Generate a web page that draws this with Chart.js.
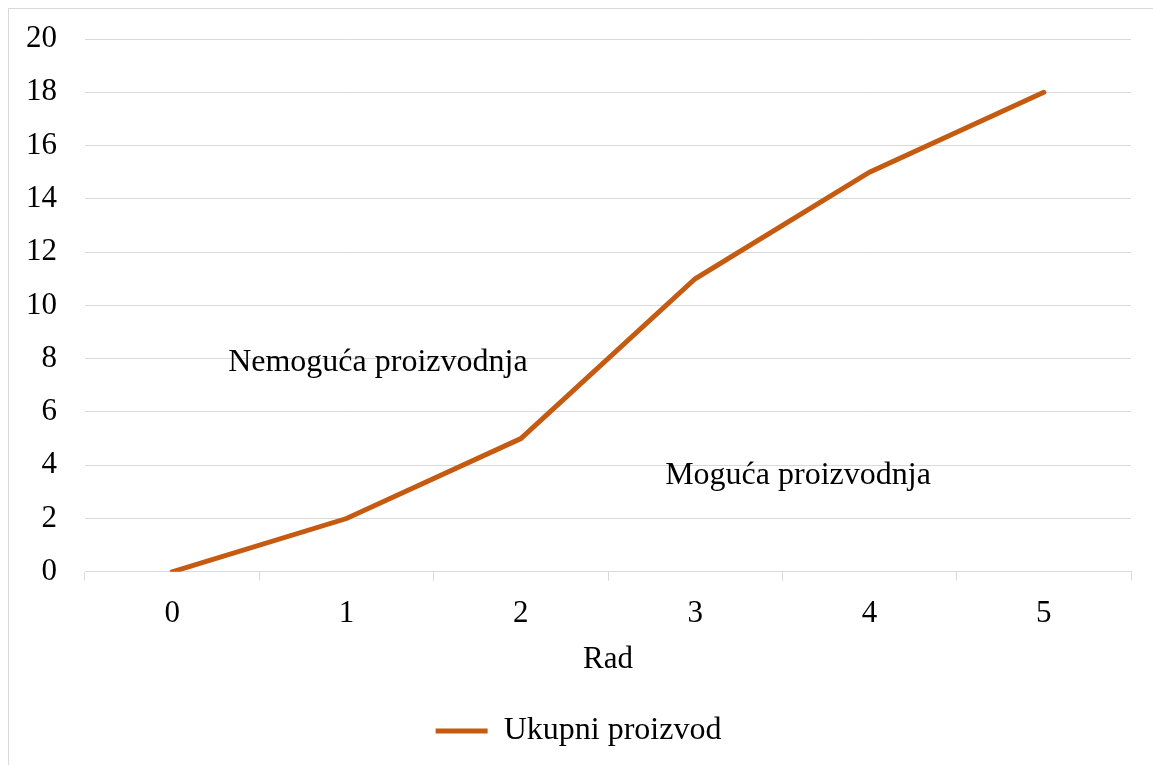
<!DOCTYPE html>
<html>
<head>
<meta charset="utf-8">
<script src="https://cdn.jsdelivr.net/npm/chart.js@4/dist/chart.umd.min.js"></script>
<style>
  html, body { margin: 0; padding: 0; background: #fff; }
  canvas { display: block; }
</style>
</head>
<body>
<canvas id="chart" width="1153" height="765"></canvas>
<script>
// Podaci grafikona
const radLabels = ["0", "1", "2", "3", "4", "5"];
const ukupniProizvod = [0, 2, 5, 11, 15, 18];
const seriesName = "Ukupni proizvod";
const xTitle = "Rad";
const notes = [
  { text: "Nemoguća proizvodnja", x: 1.18, y: 7.85 },
  { text: "Moguća proizvodnja", x: 3.59, y: 3.6 }
];

const FONT = "'Liberation Serif', 'Times New Roman', serif";
const LINE = "#c55a11";
const GRID = "#d9d9d9";

// Okvir oko grafikona
const framePlugin = {
  id: "frame",
  beforeDraw(chart) {
    const c = chart.ctx;
    c.save();
    c.fillStyle = "#fff";
    c.fillRect(0, 0, chart.width, chart.height);
    c.strokeStyle = GRID;
    c.lineWidth = 1;
    c.strokeRect(8.5, 8.5, chart.width + 20, chart.height + 20);
    c.restore();
  }
};

// Tekstualne oznake u grafikonu
const notesPlugin = {
  id: "notes",
  afterDatasetsDraw(chart) {
    const c = chart.ctx;
    const xs = chart.scales.x;
    const ys = chart.scales.y;
    c.save();
    c.font = "32px " + FONT;
    c.fillStyle = "#000";
    c.textAlign = "center";
    c.textBaseline = "middle";
    notes.forEach((n) => {
      c.fillText(n.text, xs.getPixelForValue(n.x), ys.getPixelForValue(n.y));
    });
    c.restore();
  }
};

new Chart(document.getElementById("chart"), {
  type: "line",
  data: {
    labels: radLabels,
    datasets: [{
      label: seriesName,
      data: ukupniProizvod,
      borderColor: LINE,
      backgroundColor: LINE,
      borderWidth: 5,
      borderCapStyle: "round",
      pointRadius: 0,
      tension: 0
    }]
  },
  options: {
    responsive: false,
    animation: false,
    layout: { padding: { left: 26, right: 22, top: 39, bottom: 8 } },
    scales: {
      x: {
        offset: true,
        grid: { offset: true, drawOnChartArea: false, drawTicks: true, tickLength: 9, color: GRID },
        border: { color: GRID },
        ticks: { color: "#000", font: { family: FONT, size: 31 }, padding: 14 },
        title: {
          display: true,
          text: xTitle,
          color: "#000",
          font: { family: FONT, size: 31, lineHeight: 1 },
          padding: { top: -2, bottom: 20 }
        }
      },
      y: {
        min: 0,
        max: 20,
        afterFit(scale) {
          scale.width = 59;
          scale.paddingTop = 0;
          scale.paddingBottom = 0;
        },
        ticks: { stepSize: 2, color: "#000", font: { family: FONT, size: 31 }, padding: 28 },
        grid: { color: GRID, drawTicks: false },
        border: { display: false }
      }
    },
    plugins: {
      legend: {
        position: "bottom",
        labels: {
          usePointStyle: true,
          pointStyle: "line",
          pointStyleWidth: 52,
          color: "#000",
          font: { family: FONT, size: 32 },
          padding: 20
        }
      },
      tooltip: { enabled: false }
    }
  },
  plugins: [framePlugin, notesPlugin]
});
</script>
</body>
</html>
